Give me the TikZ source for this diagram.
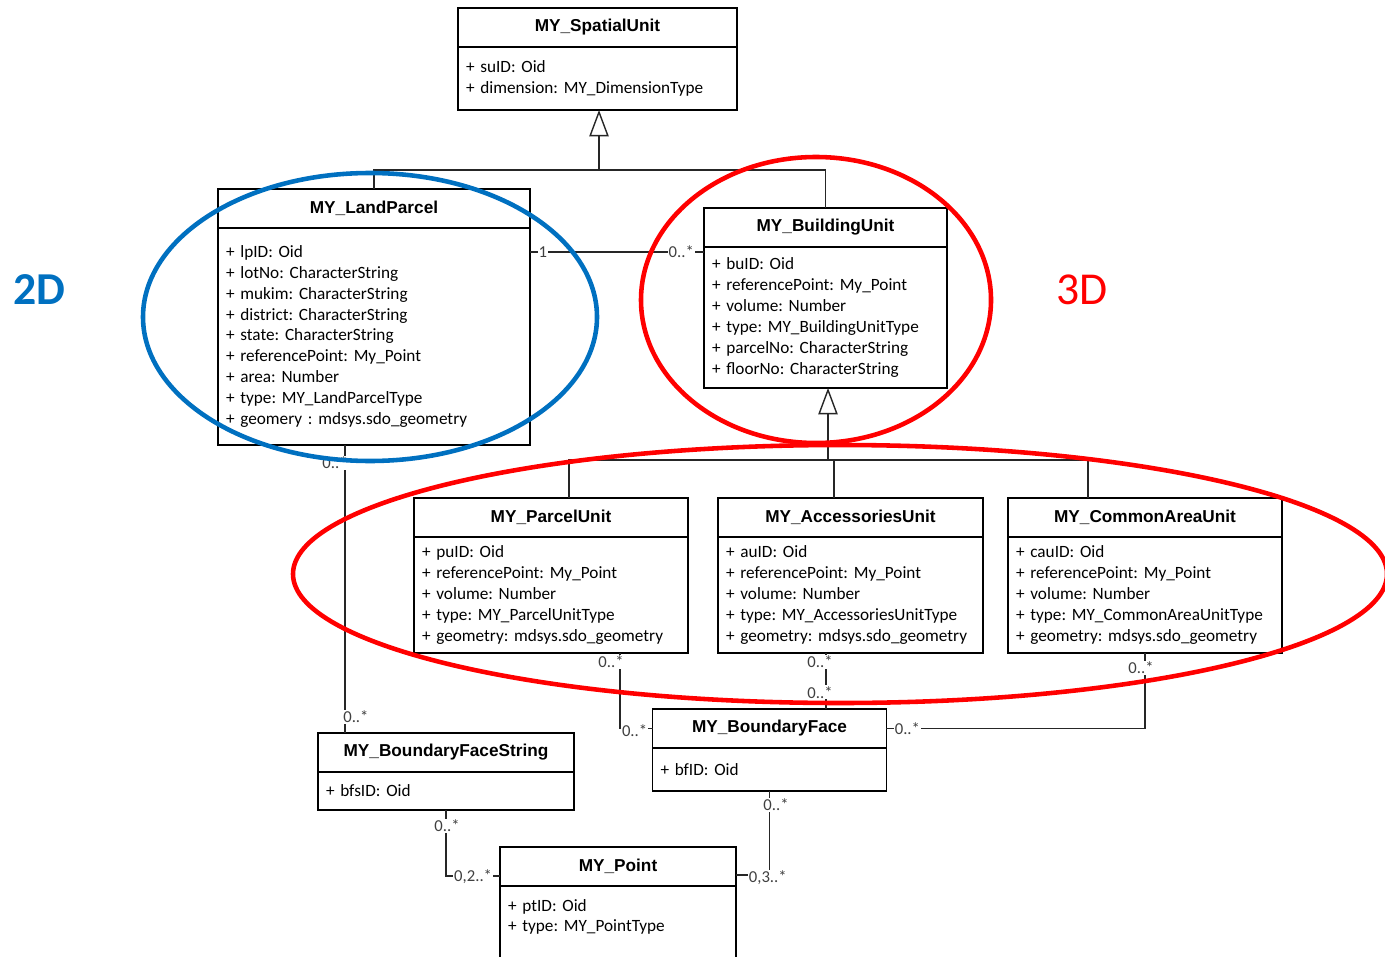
\documentclass[tikz,border=0pt]{standalone}
\usepackage{fontspec}
\setmainfont{Carlito}
\newfontfamily\hdfont{Liberation Sans}
\usetikzlibrary{positioning,arrows.meta}
\definecolor{zoneblue}{RGB}{0,112,192}
\definecolor{zonered}{RGB}{255,0,0}
\frenchspacing

\begin{document}
\begin{tikzpicture}[x=0.02cm, y=-0.02cm,
        cls/.style={draw, line width=0.8pt, outer sep=0pt, minimum height=0.78cm, font=\hdfont\bfseries\fontsize{9.8}{11}\selectfont},
        attrs/.style={draw, line width=0.8pt, outer sep=0pt, inner xsep=4.5pt, inner ysep=0pt, align=left, font=\fontsize{9.8}{11.9}\selectfont},
        link/.style={line width=0.8pt, draw=black!85},
        gen/.style={link, -{Triangle[open, width=11pt, length=15pt]}},
        mult/.style={fill=white, inner sep=0.6pt, text=black!75, font=\fontsize{9.5}{10}\selectfont},
        zone/.style={line width=2.6pt}]
        \useasboundingbox (0,0) rectangle (1385,956);
        \clip (0,0) rectangle (1385,956);

        \node[cls, minimum width=5.58cm] (su) at (597.5,27.5) {MY\_SpatialUnit};
        \node[attrs, text width=5.26cm, minimum height=1.26cm, below=0pt of su] (su-a) {+ suID: Oid\\+ dimension: MY\_DimensionType};

        \node[cls, minimum width=6.24cm] (lp) at (374,208.5) {MY\_LandParcel};
        \node[attrs, text width=5.92cm, minimum height=4.34cm, below=0pt of lp] (lp-a) {+ lpID: Oid\\+ lotNo: CharacterString\\+ mukim: CharacterString\\+ district: CharacterString\\+ state: CharacterString\\+ referencePoint: My\_Point\\+ area: Number\\+ type: MY\_LandParcelType\\+ geomery : mdsys.sdo\_geometry};

        \node[cls, minimum width=4.86cm] (bu) at (825.5,227.5) {MY\_BuildingUnit};
        \node[attrs, text width=4.54cm, minimum height=2.82cm, below=0pt of bu] (bu-a) {+ buID: Oid\\+ referencePoint: My\_Point\\+ volume: Number\\+ type: MY\_BuildingUnitType\\+ parcelNo: CharacterString\\+ floorNo: CharacterString};

        \node[cls, minimum width=5.48cm] (pu) at (551,517.5) {MY\_ParcelUnit};
        \node[attrs, text width=5.16cm, minimum height=2.32cm, below=0pt of pu] (pu-a) {+ puID: Oid\\+ referencePoint: My\_Point\\+ volume: Number\\+ type: MY\_ParcelUnitType\\+ geometry: mdsys.sdo\_geometry};

        \node[cls, minimum width=5.30cm] (au) at (850.5,517.5) {MY\_AccessoriesUnit};
        \node[attrs, text width=4.98cm, minimum height=2.32cm, below=0pt of au] (au-a) {+ auID: Oid\\+ referencePoint: My\_Point\\+ volume: Number\\+ type: MY\_AccessoriesUnitType\\+ geometry: mdsys.sdo\_geometry};

        \node[cls, minimum width=5.48cm] (cu) at (1145,517.5) {MY\_CommonAreaUnit};
        \node[attrs, text width=5.16cm, minimum height=2.32cm, below=0pt of cu] (cu-a) {+ cauID: Oid\\+ referencePoint: My\_Point\\+ volume: Number\\+ type: MY\_CommonAreaUnitType\\+ geometry: mdsys.sdo\_geometry};

        \node[cls, minimum width=4.68cm] (bf) at (769.5,728.5) {MY\_BoundaryFace};
        \node[attrs, text width=4.36cm, minimum height=0.86cm, below=0pt of bf] (bf-a) {+ bfID: Oid};

        \node[cls, minimum width=5.12cm] (bfs) at (446,752.5) {MY\_BoundaryFaceString};
        \node[attrs, text width=4.80cm, minimum height=0.76cm, below=0pt of bfs] (bfs-a) {+ bfsID: Oid};

        \node[cls, minimum width=4.72cm] (pt) at (618,866.5) {MY\_Point};
        \node[attrs, text width=4.40cm, minimum height=1.60cm, below=0pt of pt] (pt-a) {+ ptID: Oid\\+ type: MY\_PointType\\ \mbox{}};

        \coordinate (j1) at (599,170);
        \coordinate (j2) at (828,460);
        \draw[gen] (j1) -- (j1 |- su-a.south);
        \draw[link] (lp.north) |- (j1) -| (bu.north);
        \draw[gen] (j2) -- (j2 |- bu-a.south);
        \draw[link] (pu.north -| 569,0) |- (j2) -| (cu.north -| 1088,0);
        \draw[link] (au.north -| 834,0) -- (j2 -| 834,0);

        \draw[link] (lp-a.east |- 0,252) -- node[mult, at start, xshift=7.4pt]{1} node[mult, at end, xshift=-13pt]{0..*} (bu-a.west |- 0,252);
        \draw[link] (lp-a.south -| 345,0) -- node[mult, at start, xshift=-5.7pt, yshift=-10.2pt]{0..*} node[mult, at end, xshift=6.2pt, yshift=9.1pt]{0..*} (bfs.north -| 345,0);
        \draw[link] (pu-a.south -| 620,0) |- node[mult, at start, xshift=-5.1pt, yshift=-5.1pt]{0..*} node[mult, at end, xshift=-10.2pt, yshift=-1.4pt]{0..*} (bf.west);
        \draw[link] (au-a.south -| 826,0) -- node[mult, at start, xshift=-3.4pt, yshift=-5.1pt]{0..*} node[mult, at end, xshift=-3.4pt, yshift=9.6pt]{0..*} (bf.north -| 826,0);
        \draw[link] (cu-a.south) |- node[mult, at start, xshift=-2.3pt, yshift=-8.5pt]{0..*} node[mult, at end, xshift=11.9pt]{0..*} (bf.east);
        \draw[link] (bfs-a.south) |- node[mult, at start, xshift=0.6pt, yshift=-9.1pt]{0..*} node[mult, at end, xshift=-15.3pt, yshift=-0.6pt]{0,2..*} (pt.west |- 0,876);
        \draw[link] (bf-a.south) |- node[mult, at start, xshift=3.7pt, yshift=-7.9pt]{0..*} node[mult, at end, xshift=18.1pt, yshift=-1.7pt]{0,3..*} (pt.east |- 0,875);

        \draw[zone, zoneblue] (370,317) ellipse [x radius=227, y radius=144];
        \draw[zone, zonered] (816,300) ellipse [x radius=175, y radius=143];
        \draw[zone, zonered] (840,574) ellipse [x radius=547, y radius=129];
        \node[text=zoneblue, font=\bfseries\fontsize{26}{30}\selectfont] (twoD) at (39.5,290) {2D};
        \node[text=zonered, font=\fontsize{26}{30}\selectfont] (threeD) at (1082,290) {3D};
    \end{tikzpicture}
\end{document}
